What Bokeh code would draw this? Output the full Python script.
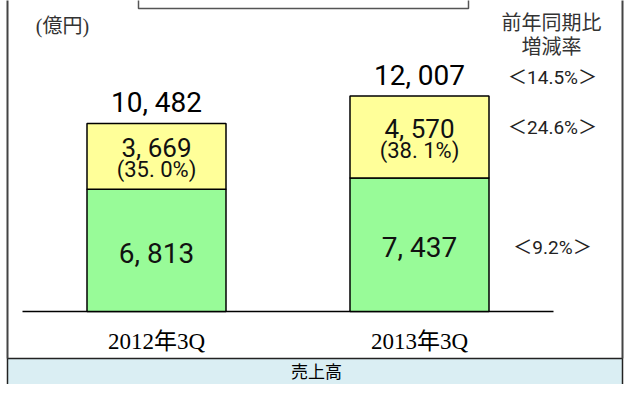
import numpy as np
from bokeh.plotting import figure
from bokeh.models import ColumnDataSource
from bokeh.core.properties import value
from bokeh.embed import file_html
from bokeh.resources import INLINE

# data (億円)
periods = ["2012年3Q", "2013年3Q"]
domestic = [6813, 7437]        # green, lower segment
overseas = [3669, 4570]        # yellow, upper segment
totals = [10482, 12007]
overseas_share = ["35.0", "38.1"]
growth = ["14.5", "24.6", "9.2"]   # total, overseas, domestic (YoY %)

# layout: x in pixels, y in 億円 (K = 億円 per pixel, baseline at 311px)
K = 1 / 0.01794
def ry(py):
    return (311 - py) * K

bar_x = [156, 419]
bar_w = 139
NUM = "Roboto, Noto Sans CJK JP"
SERIF = "Liberation Serif, Noto Sans CJK JP"
JP = "Noto Sans CJK JP"

p = figure(width=624, height=384, x_range=(0, 624), y_range=(ry(384), ry(0)),
           output_backend="svg", toolbar_location=None,
           x_axis_location=None, y_axis_location=None, min_border=0)
p.grid.visible = False
p.outline_line_color = None
p.background_fill_color = "white"
p.border_fill_color = "white"

# bottom band
p.quad(left=7, right=622, bottom=ry(420), top=ry(358), fill_color="#daeef3",
       line_color="#222222", line_width=1.5)
p.text(x=[316], y=[ry(370)], text=["売上高"], text_align="center", text_baseline="middle",
       text_font=value(JP), text_font_size="17px", text_color="black")

# outer frame sides and title box edge
p.segment(x0=[7, 622], y0=[ry(-5), ry(-5)], x1=[7, 622], y1=[ry(358), ry(358)],
          line_color="#444444", line_width=2)
p.quad(left=138, right=468, bottom=ry(8), top=ry(-20), fill_color=None,
       line_color="#555555", line_width=1.5)

# baseline
p.segment(x0=[22], y0=[0], x1=[553], y1=[0], line_color="black", line_width=1.5)

src = ColumnDataSource(dict(x=bar_x, dom=domestic, tot=totals))
p.vbar(x="x", bottom=0, top="dom", width=bar_w, source=src,
       fill_color="#98fb98", line_color="black", line_width=1.5)
p.vbar(x="x", bottom="dom", top="tot", width=bar_w, source=src,
       fill_color="#ffff99", line_color="black", line_width=1.5)

fmt = lambda v: f"{v:,}".replace(",", ", ")

# totals above bars
p.text(x=bar_x, y=[t + 21 * K for t in totals], text=[fmt(t) for t in totals],
       text_align="center", text_baseline="middle", text_font=value(NUM),
       text_font_size="28px", text_color="black")
# overseas value and share
mid_o = [(d + t) / 2 for d, t in zip(domestic, totals)]
p.text(x=bar_x, y=[m + 8.5 * K for m in mid_o], text=[fmt(o) for o in overseas],
       text_align="center", text_baseline="middle", text_font=value(NUM),
       text_font_size="26px", text_color="#111111")
p.text(x=bar_x, y=[m - 13.5 * K for m in mid_o],
       text=["(" + s.replace(".", ". ") + "%)" for s in overseas_share],
       text_align="center", text_baseline="middle", text_font=value(NUM),
       text_font_size="22px", text_color="#111111")
# domestic value
p.text(x=bar_x, y=[d / 2 - 3 * K for d in domestic], text=[fmt(d) for d in domestic],
       text_align="center", text_baseline="middle", text_font=value(NUM),
       text_font_size="28px", text_color="#111111")

# category labels
p.text(x=bar_x, y=[ry(341)] * 2, text=periods, text_align="center", text_baseline="middle",
       text_font=value(SERIF), text_font_size="23px", text_color="black")

# unit and right-hand header
p.text(x=[62], y=[ry(25)], text=["(億円)"], text_align="center", text_baseline="middle",
       text_font=value(SERIF), text_font_size="20px", text_color="#333333")
p.text(x=[551, 551], y=[ry(21), ry(45)], text=["前年同期比", "増減率"], text_align="center",
       text_baseline="middle", text_font=value(JP), text_font_size="20px",
       text_color="#333333")

# growth rates
p.text(x=[552] * 3, y=[ry(77), ry(127), ry(247)], text=["＜" + g + "%＞" for g in growth],
       text_align="center", text_baseline="middle", text_font=value(NUM),
       text_font_size="19px", text_color="#222222")

open("out.html", "w").write(file_html(p, INLINE))
